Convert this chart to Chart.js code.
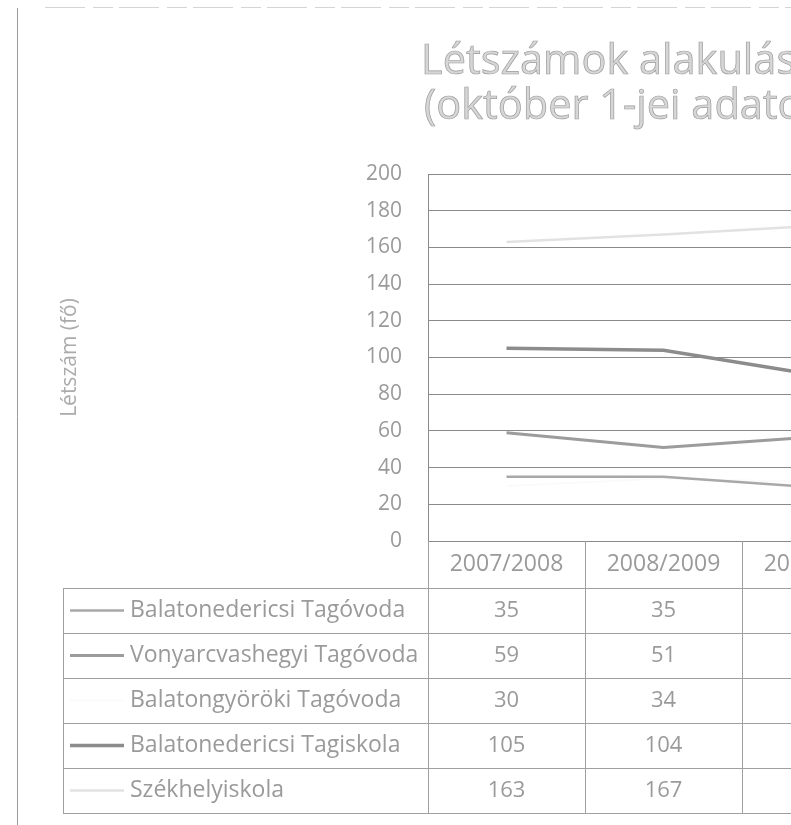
<!DOCTYPE html>
<html><head><meta charset="utf-8">
<script src="https://cdn.jsdelivr.net/npm/chart.js@4.4.0/dist/chart.umd.min.js"></script>
<style>
html,body{margin:0;padding:0;background:#fff;overflow:hidden;width:791px;height:825px;}
#wrap{position:absolute;left:0;top:0;width:791px;height:825px;overflow:hidden;}
canvas{display:block;}
</style></head><body>
<div id="wrap"><canvas id="c" width="909" height="825"></canvas></div>
<script>
// ---- data ----
const categories = ['2007/2008', '2008/2009', '2009/2010'];
const titleLines = ['Létszámok alakulása', '(október 1-jei adatok)'];
const yAxisTitle = 'Létszám (fő)';
const seriesNames = ['Balatonedericsi Tagóvoda', 'Vonyarcvashegyi Tagóvoda', 'Balatongyöröki Tagóvoda', 'Balatonedericsi Tagiskola', 'Székhelyiskola'];
const balatonedericsiTagovoda = [35, 35, 29];
const vonyarcvashegyiTagovoda = [59, 51, 57];
const balatongyorokiTagovoda = [30, 34, 32];
const balatonedericsiTagiskola = [105, 104, 90];
const szekhelyiskola = [163, 167, 172];
const yMin = 0, yMax = 200, yStep = 20;

// ---- styles ----
const FONT = '"Open Sans", "DejaVu Sans", sans-serif';
const seriesStyles = [
  {color: '#a8a8a8', width: 2.5},
  {color: '#9c9c9c', width: 3},
  {color: 'rgba(0,0,0,0.02)', width: 2},
  {color: '#8c8c8c', width: 3.5},
  {color: '#e2e2e2', width: 2.5}
];
const seriesData = [balatonedericsiTagovoda, vonyarcvashegyiTagovoda, balatongyorokiTagovoda, balatonedericsiTagiskola, szekhelyiskola];

const framePlugin = {
  id: 'frame',
  beforeDraw(chart) {
    const ctx = chart.ctx;
    ctx.save();
    ctx.fillStyle = '#fff';
    ctx.fillRect(0, 0, chart.width, chart.height);
    ctx.strokeStyle = '#9a9a9a';
    ctx.lineWidth = 1;
    ctx.beginPath();
    ctx.moveTo(17.5, 8); ctx.lineTo(17.5, 825);
    ctx.stroke();
    ctx.strokeStyle = '#d4d4d4';
    ctx.setLineDash([40, 8, 20, 6]);
    ctx.beginPath();
    ctx.moveTo(45, 7.5); ctx.lineTo(chart.width, 7.5);
    ctx.stroke();
    ctx.restore();
  }
};

const titlePlugin = {
  id: 'scanTitle',
  afterDraw(chart) {
    const ctx = chart.ctx;
    ctx.save();
    ctx.font = '41.5px ' + FONT;
    ctx.textAlign = 'left';
    ctx.textBaseline = 'alphabetic';
    ctx.fillStyle = '#d6d6d6';
    ctx.strokeStyle = '#9c9c9c';
    ctx.lineWidth = 0.7;
    const pos = [[421, 74], [424, 119]];
    titleLines.forEach((t, i) => {
      ctx.fillText(t, pos[i][0], pos[i][1]);
      ctx.strokeText(t, pos[i][0], pos[i][1]);
    });
    ctx.restore();
  }
};

const tablePlugin = {
  id: 'dataTable',
  afterDraw(chart) {
    const ctx = chart.ctx;
    const a = chart.chartArea;
    const x = chart.scales.x;
    const n = categories.length;
    const cw = x.width / n;
    const headerBottom = a.bottom + 47;
    const rowH = 45;
    const tableBottom = headerBottom + rowH * seriesNames.length;
    const labelLeft = 63;
    ctx.save();
    ctx.strokeStyle = '#a0a0a0';
    ctx.lineWidth = 1;
    for (let i = 0; i <= n; i++) {
      const xv = Math.round(a.left + i * cw) + 0.5;
      ctx.beginPath(); ctx.moveTo(xv, a.bottom); ctx.lineTo(xv, tableBottom); ctx.stroke();
    }
    ctx.beginPath(); ctx.moveTo(labelLeft + 0.5, headerBottom); ctx.lineTo(labelLeft + 0.5, tableBottom); ctx.stroke();
    for (let r = 0; r <= seriesNames.length; r++) {
      const yv = Math.round(headerBottom + r * rowH) + 0.5;
      ctx.beginPath(); ctx.moveTo(labelLeft, yv); ctx.lineTo(a.right, yv); ctx.stroke();
    }
    ctx.textBaseline = 'middle';
    seriesNames.forEach((name, r) => {
      const yc = headerBottom + r * rowH + rowH / 2;
      const st = seriesStyles[r];
      ctx.strokeStyle = st.color;
      ctx.lineWidth = st.width;
      ctx.beginPath(); ctx.moveTo(70, yc); ctx.lineTo(124, yc); ctx.stroke();
      ctx.fillStyle = '#9a9a9a';
      ctx.font = '23px ' + FONT;
      ctx.textAlign = 'left';
      ctx.fillText(name, 130, yc);
      ctx.font = '22px ' + FONT;
      ctx.textAlign = 'center';
      seriesData[r].forEach((v, i) => {
        if (v !== null) ctx.fillText(String(v), x.getPixelForValue(i), yc);
      });
    });
    ctx.restore();
  }
};

new Chart(document.getElementById('c'), {
  type: 'line',
  data: {
    labels: categories,
    datasets: seriesNames.map((name, i) => ({
      label: name,
      data: seriesData[i],
      borderColor: seriesStyles[i].color,
      borderWidth: seriesStyles[i].width,
      pointRadius: 0,
      tension: 0,
      fill: false
    }))
  },
  options: {
    responsive: false,
    animation: false,
    devicePixelRatio: 1,
    layout: {padding: {left: 53, right: 10, top: 174, bottom: 12}},
    plugins: {legend: {display: false}, title: {display: false}, tooltip: {enabled: false}},
    scales: {
      x: {
        offset: true,
        grid: {display: false, drawTicks: false},
        border: {display: false},
        ticks: {color: '#9a9a9a', font: {family: FONT, size: 23}, padding: 10, maxRotation: 0, autoSkip: false},
        afterFit(s) { s.height = 272; }
      },
      y: {
        min: yMin, max: yMax,
        grid: {color: '#8a8a8a', lineWidth: 1, drawTicks: false},
        border: {display: true, color: '#8a8a8a'},
        ticks: {stepSize: yStep, color: '#9a9a9a', font: {family: FONT, size: 21}, padding: 26},
        title: {display: true, text: yAxisTitle, color: '#ababab', font: {family: FONT, size: 21}},
        afterFit(s) { s.width = 375; }
      }
    }
  },
  plugins: [framePlugin, titlePlugin, tablePlugin]
});
</script>
</body></html>
